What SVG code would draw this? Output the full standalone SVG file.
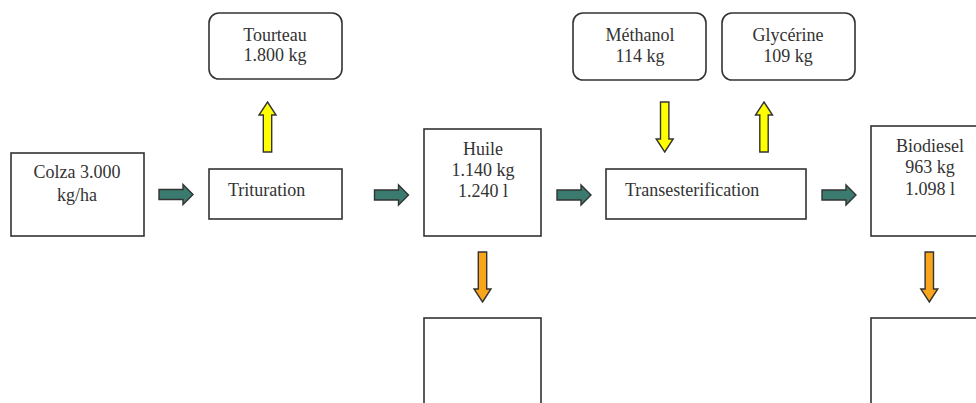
<svg xmlns="http://www.w3.org/2000/svg" width="976" height="403" viewBox="0 0 976 403" font-family="'Liberation Serif', 'Times New Roman', Times, 'DejaVu Serif', serif">
<defs>
<style>
.box{fill:#fff;stroke:#333;stroke-width:1.6}
text{font-family:'Liberation Serif','Times New Roman',Times,'DejaVu Serif',serif;font-size:18px;fill:#333}
.c{text-anchor:middle}
.teal{fill:#3b7b6f;stroke:#333;stroke-width:1.4;stroke-linejoin:miter}
.yel{fill:#ffff00;stroke:#333;stroke-width:1.4}
.ora{fill:#f8a51c;stroke:#333;stroke-width:1.4}
</style>
<path id="ar" d="M0,-5 H24 V-10 L34,0 L24,10 V5 H0 Z"/>
<path id="up" d="M0,0 L8.5,13 H4.2 V50 H-4.2 V13 H-8.5 Z"/>
<path id="dn" d="M0,50 L8.5,37 H4.2 V0 H-4.2 V37 H-8.5 Z"/>
</defs>
<rect width="976" height="403" fill="#fff"/>
<g id="colza">
<rect class="box" x="11" y="153" width="133" height="83"/>
<text class="c" x="77" y="178">Colza 3.000</text>
<text class="c" x="77" y="201">kg/ha</text>
</g>
<g id="trituration">
<rect class="box" x="209" y="169" width="133" height="50"/>
<text x="228" y="196">Trituration</text>
</g>
<g id="tourteau">
<rect class="box" x="209" y="13" width="133" height="66" rx="10"/>
<text class="c" x="275" y="41">Tourteau</text>
<text class="c" x="275" y="61">1.800 kg</text>
</g>
<g id="huile">
<rect class="box" x="424" y="129" width="117" height="107"/>
<text class="c" x="483" y="155">Huile</text>
<text class="c" x="483" y="176">1.140 kg</text>
<text class="c" x="483" y="197">1.240 l</text>
</g>
<g id="huile-out">
<rect class="box" x="424" y="318" width="117" height="110"/>
</g>
<g id="methanol">
<rect class="box" x="573" y="13" width="133" height="67" rx="10"/>
<text class="c" x="640" y="41">Méthanol</text>
<text class="c" x="640" y="62">114 kg</text>
</g>
<g id="glycerine">
<rect class="box" x="722" y="13" width="133" height="67" rx="10"/>
<text class="c" x="788" y="41">Glycérine</text>
<text class="c" x="788" y="62">109 kg</text>
</g>
<g id="transesterification">
<rect class="box" x="606" y="169" width="200" height="50"/>
<text x="625" y="196">Transesterification</text>
</g>
<g id="biodiesel">
<rect class="box" x="871" y="126" width="117" height="110"/>
<text class="c" x="930" y="152">Biodiesel</text>
<text class="c" x="930" y="173">963 kg</text>
<text class="c" x="930" y="195">1.098 l</text>
</g>
<g id="biodiesel-out">
<rect class="box" x="871" y="318" width="117" height="110"/>
</g>
<g id="connectors">
<use href="#ar" class="teal" transform="translate(159,194.5)"/>
<use href="#ar" class="teal" transform="translate(374.5,195)"/>
<use href="#ar" class="teal" transform="translate(557,195)"/>
<use href="#ar" class="teal" transform="translate(822,195)"/>
<use href="#up" class="yel" transform="translate(267.5,102)"/>
<use href="#dn" class="yel" transform="translate(664.7,102)"/>
<use href="#up" class="yel" transform="translate(764,102)"/>
<use href="#dn" class="ora" transform="translate(482.5,252)"/>
<use href="#dn" class="ora" transform="translate(929.3,252)"/>
</g>
</svg>
